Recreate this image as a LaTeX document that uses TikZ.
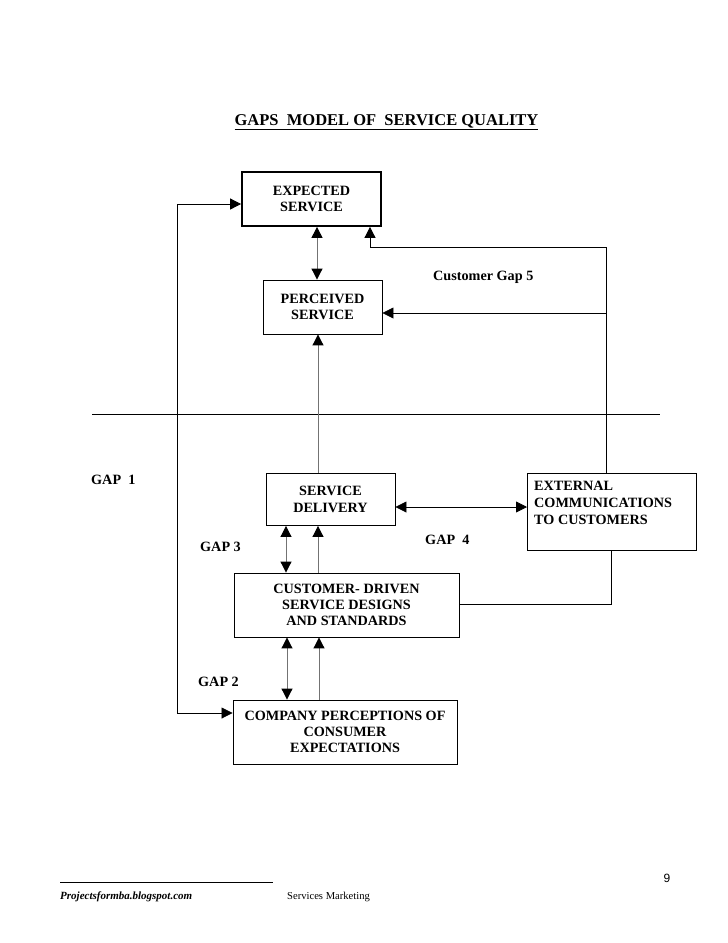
\documentclass[tikz,border=0pt]{standalone}
\usepackage{fontspec}
\setmainfont{Liberation Serif}
\newfontfamily\arialfont{Liberation Sans}
\usetikzlibrary{arrows.meta,calc}
\tikzset{
  box/.style={draw=black, line width=0.9pt, fill=white, inner sep=0pt, align=center,
    font=\bfseries\fontsize{14.2}{16.3}\selectfont},
  lbl/.style={inner sep=0pt, font=\bfseries\fontsize{14.2}{16.3}\selectfont, anchor=west},
  conn/.style={draw=black, line width=0.8pt},
  gconn/.style={draw=black!55, line width=1pt},
  tip/.tip={Triangle[length=11pt,width=11pt,color=black]},
}
\begin{document}
\begin{tikzpicture}[x=1pt,y=-1pt]
\useasboundingbox[fill=white] (0,0) rectangle (728,943);

% title
\node[inner sep=0pt, font=\bfseries\fontsize{16.5}{19}\selectfont] (title) at (386.5,122)
  {\underline{GAPS\ \ MODEL OF\ \ SERVICE QUALITY}};

% boxes
\node[box, line width=1.8pt, minimum width=139pt, minimum height=54pt] (exp) at (311.5,199) {EXPECTED\\SERVICE};
\node[box, minimum width=119pt, minimum height=54pt] (per) at (322.5,307) {PERCEIVED\\SERVICE};
\node[box, minimum width=129pt, minimum height=52pt] (del) at (330.5,499.5) {SERVICE\\DELIVERY};
\node[box, minimum width=169pt, minimum height=77pt, anchor=north west] (ext) at (527,473) {};
\node[inner sep=0pt, anchor=north west, align=left, font=\bfseries\fontsize{14.2}{16.8}\selectfont] (extt) at (534,481)
  {EXTERNAL\\COMMUNICATIONS\\TO CUSTOMERS};
\node[box, minimum width=225pt, minimum height=64pt] (cds) at (346.5,605) {CUSTOMER- DRIVEN\\SERVICE DESIGNS\\AND STANDARDS};
\node[box, minimum width=224pt, minimum height=64pt] (com) at (345,732) {COMPANY PERCEPTIONS OF\\CONSUMER\\EXPECTATIONS};

% labels
\node[lbl] (g5) at (433,277) {Customer Gap 5};
\node[lbl] (g1) at (91,480) {GAP\ \ 1};
\node[lbl] (g3) at (200,547) {GAP 3};
\node[lbl] (g4) at (425,540) {GAP\ \ 4};
\node[lbl] (g2) at (198,682) {GAP 2};

% coordinates
\coordinate (L1) at (177,204);
\coordinate (L2) at (177,713);
\coordinate (h1) at (92,414);
\coordinate (h2) at (660,414);
\coordinate (c1) at (317,0);
\coordinate (c2) at (318,0);
\coordinate (R) at (606,247);
\coordinate (Rx) at (370,247);
\coordinate (R2) at (606,313);
\coordinate (c3) at (0,507);
\coordinate (c4) at (611,604);
\coordinate (g3a) at (286,0);
\coordinate (g3b) at (318,0);
\coordinate (g2a) at (287,0);
\coordinate (g2b) at (319,0);

% connectors
\draw[conn, tip-tip] (L1 -| exp.west) -- (L1) -- (L2) -- (L2 -| com.west);
\draw[conn] (h1) -- (h2);
\draw[gconn, tip-tip] (c1 |- exp.south) -- (c1 |- per.north);
\draw[gconn, -tip] (c2 |- del.north) -- (c2 |- per.south);
\draw[conn, -tip] (R |- ext.north) -- (R) -- (Rx) -- (Rx |- exp.south);
\draw[conn, -tip] (R2) -- (R2 -| per.east);
\draw[conn, tip-tip] (c3 -| del.east) -- (c3 -| ext.west);
\draw[conn] (c4 |- ext.south) -- (c4) -- (c4 -| cds.east);
\draw[gconn, tip-tip] (g3a |- del.south) -- (g3a |- cds.north);
\draw[gconn, -tip] (g3b |- cds.north) -- (g3b |- del.south);
\draw[gconn, tip-tip] (g2a |- cds.south) -- (g2a |- com.north);
\draw[gconn, -tip] (g2b |- com.north) -- (g2b |- cds.south);

% footer
\coordinate (f1) at (60,882);
\coordinate (f2) at (273,882);
\draw[conn] (f1) -- (f2);
\node[inner sep=0pt, anchor=west, font=\bfseries\itshape\fontsize{11}{13}\selectfont] (site) at (60,897) {Projectsformba.blogspot.com};
\node[inner sep=0pt, anchor=west, font=\fontsize{10.6}{13}\selectfont] (sm) at (287,897) {Services Marketing};
\node[inner sep=0pt, font=\arialfont\fontsize{12}{14}\selectfont] (pg) at (667,878) {9};
\end{tikzpicture}
\end{document}
